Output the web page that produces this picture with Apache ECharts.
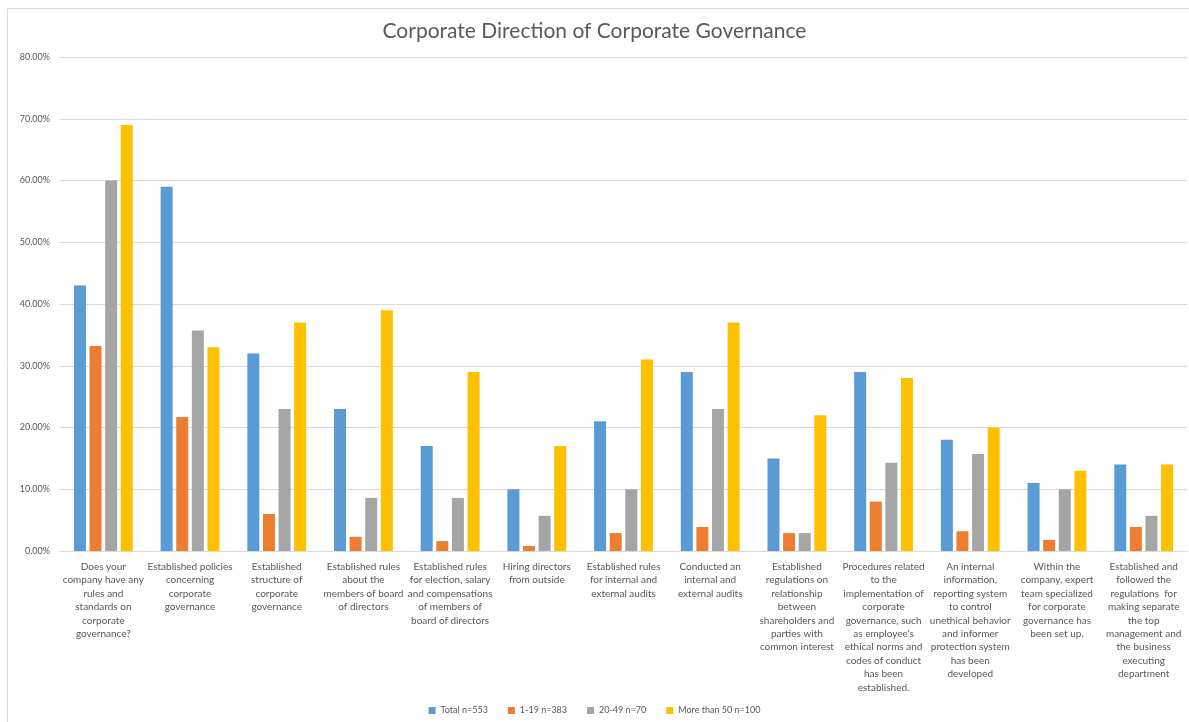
<!DOCTYPE html>
<html>
<head>
<meta charset="utf-8">
<script src="https://cdn.jsdelivr.net/npm/echarts@6/dist/echarts.min.js"></script>
<style>
html,body{margin:0;padding:0;background:#fff;}
#chart{width:1189px;height:722px;}
</style>
</head>
<body>
<div id="chart"></div>
<script>
const categories = [
  "Does your\ncompany have any\nrules and\nstandards on\ncorporate\ngovernance?",
  "Established policies\nconcerning\ncorporate\ngovernance",
  "Established\nstructure of\ncorporate\ngovernance",
  "Established rules\nabout the\nmembers of board\nof directors",
  "Established rules\nfor election, salary\nand compensations\nof members of\nboard of directors",
  "Hiring directors\nfrom outside",
  "Established rules\nfor internal and\nexternal audits",
  "Conducted an\ninternal and\nexternal audits",
  "Established\nregulations on\nrelationship\nbetween\nshareholders and\nparties with\ncommon interest",
  "Procedures related\nto the\nimplementation of\ncorporate\ngovernance, such\nas employee's\nethical norms and\ncodes of conduct\nhas been\nestablished.",
  "An internal\ninformation,\nreporting system\nto control\nunethical behavior\nand informer\nprotection system\nhas been\ndeveloped",
  "Within the\ncompany, expert\nteam specialized\nfor corporate\ngovernance has\nbeen set up.",
  "Established and\nfollowed the\nregulations  for\nmaking separate\nthe top\nmanagement and\nthe business\nexecuting\ndepartment"
];
const seriesNames = ["Total n=553", "1-19 n=383", "20-49 n=70", "More than 50 n=100"];
const totalValues = [43, 59, 32, 23, 17, 10, 21, 29, 15, 29, 18, 11, 14];
const small119Values = [33.2, 21.7, 6, 2.3, 1.6, 0.8, 2.9, 3.9, 2.9, 8, 3.2, 1.8, 3.9];
const mid2049Values = [60, 35.7, 23, 8.6, 8.6, 5.7, 10, 23, 2.9, 14.3, 15.7, 10, 5.7];
const large50Values = [69, 33, 37, 39, 29, 17, 31, 37, 22, 28, 20, 13, 14];
const colors = ["#5B9BD5", "#ED7D31", "#A5A5A5", "#FFC000"];

const chart = echarts.init(document.getElementById('chart'));
const allValues = [totalValues, small119Values, mid2049Values, large50Values];
chart.setOption({
  animation: false,
  backgroundColor: '#fff',
  color: colors,
  title: {
    text: 'Corporate Direction of Corporate Governance',
    left: 'center',
    top: 16,
    textStyle: {fontFamily: 'Lato', fontSize: 21, fontWeight: 'normal', color: '#595959'}
  },
  graphic: [{
    type: 'rect', left: 5, top: 6, shape: {width: 1200, height: 730},
    style: {fill: 'none', stroke: '#d9d9d9', lineWidth: 1}, silent: true
  }],
  legend: {
    bottom: 2,
    left: 'center',
    itemWidth: 7, itemHeight: 7, itemGap: 20,
    icon: 'rect',
    textStyle: {fontFamily: 'Lato', fontSize: 9, color: '#595959'},
    data: seriesNames
  },
  grid: {left: 60, right: 2, top: 57, bottom: 171, containLabel: false},
  xAxis: {
    type: 'category',
    data: categories,
    axisLine: {lineStyle: {color: '#d9d9d9'}},
    axisTick: {show: false},
    axisLabel: {
      interval: 0, margin: 9,
      fontFamily: 'Lato', fontSize: 10, lineHeight: 13.4, color: '#595959', align: 'center'
    }
  },
  yAxis: {
    type: 'value', min: 0, max: 80, interval: 10,
    axisLine: {show: false}, axisTick: {show: false},
    splitLine: {lineStyle: {color: '#d9d9d9'}},
    axisLabel: {
      formatter: v => v.toFixed(2) + '%',
      fontFamily: 'Lato', fontSize: 9, color: '#595959', margin: 10
    }
  },
  series: seriesNames.map((n, i) => ({
    name: n, type: 'bar', data: allValues[i],
    barWidth: 12, barGap: '30%',
    itemStyle: {color: colors[i]}
  }))
});
</script>
</body>
</html>
